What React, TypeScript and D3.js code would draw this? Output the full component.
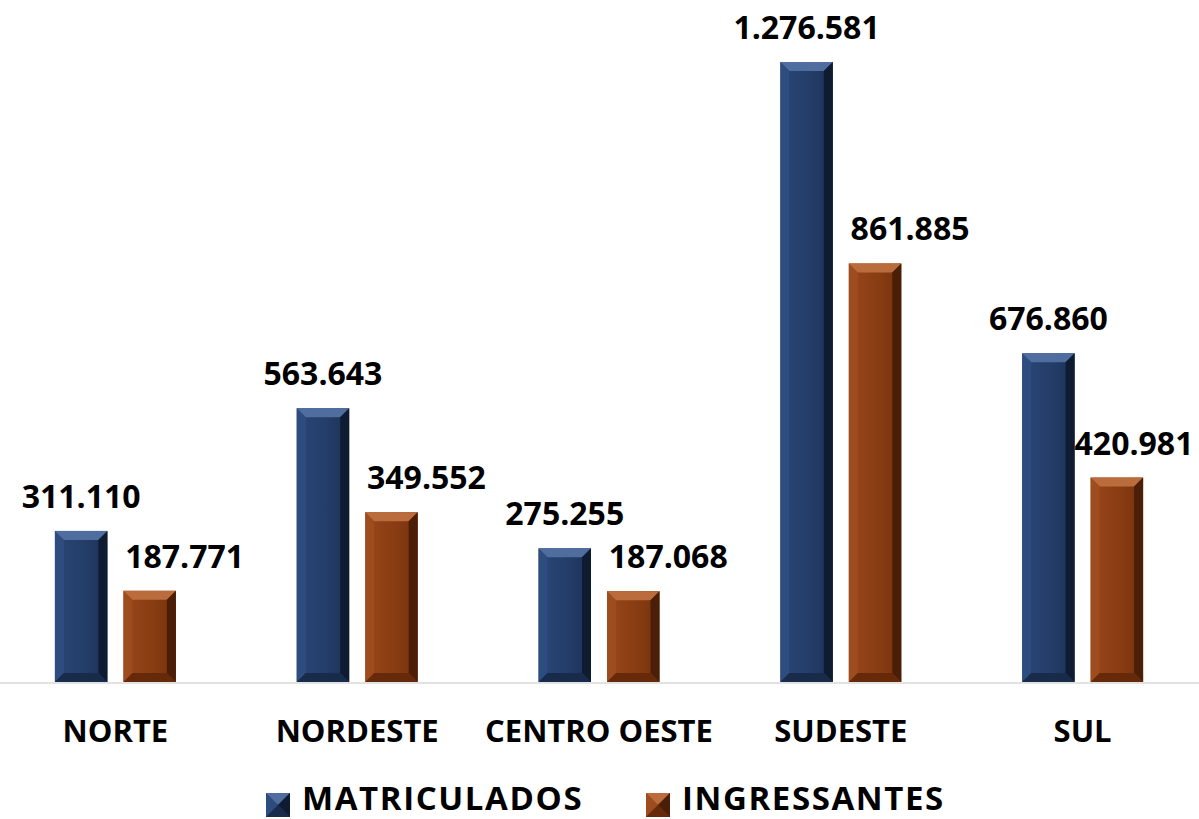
import React from "react";
import * as d3 from "d3";

// data
const categories = ["NORTE", "NORDESTE", "CENTRO OESTE", "SUDESTE", "SUL"];
const seriesNames = ["MATRICULADOS", "INGRESSANTES"];
const matriculados = [311110, 563643, 275255, 1276581, 676860];
const ingressantes = [187771, 349552, 187068, 861885, 420981];

const width = 1199;
const height = 819;
const font = "'Open Sans', 'DejaVu Sans', sans-serif";

// bevel palettes per series
const palettes = {
  MATRICULADOS: {
    body: ["#2a4675", "#243e6a", "#1c3257"],
    top: "#4f6d9f",
    left: "#304f82",
    right: "#0f1b31",
    bottom: "#182b4b",
  },
  INGRESSANTES: {
    body: ["#97461a", "#8a3d12", "#74320d"],
    top: "#bb6c3d",
    left: "#a04f20",
    right: "#4a1e07",
    bottom: "#66290a",
  },
};

const ptFormat = d3.formatLocale({
  decimal: ",",
  thousands: ".",
  grouping: [3],
  currency: ["", ""],
}).format(",d");

function pts(p) {
  return p.map((d) => d.join(",")).join(" ");
}

function BevelRect({ x, y, w, h, b, name, gid }) {
  const pal = palettes[name];
  const bb = Math.min(b, w / 2, h / 2);
  return (
    <g>
      <rect x={x} y={y} width={w} height={h} fill={`url(#${gid})`} />
      <polygon
        points={pts([[x, y], [x + w, y], [x + w - bb, y + bb], [x + bb, y + bb]])}
        fill={pal.top}
      />
      <polygon
        points={pts([[x, y], [x + bb, y + bb], [x + bb, y + h - bb], [x, y + h]])}
        fill={pal.left}
        opacity={0.8}
      />
      <polygon
        points={pts([[x + w, y], [x + w, y + h], [x + w - bb, y + h - bb], [x + w - bb, y + bb]])}
        fill={pal.right}
      />
      <polygon
        points={pts([[x, y + h], [x + bb, y + h - bb], [x + w - bb, y + h - bb], [x + w, y + h]])}
        fill={pal.bottom}
      />
    </g>
  );
}

export default function App() {
  const x0 = d3.scaleBand(categories, [-5.5, 1203.5]).padding(0);
  const bw = x0.bandwidth();
  const x1 = d3
    .scaleBand(seriesNames, [bw / 2 - 60.5, bw / 2 + 60.5])
    .paddingInner(0.2336)
    .paddingOuter(0);
  const y = d3.scaleLinear([0, d3.max(matriculados)], [682, 62]);

  const series = [
    { name: "MATRICULADOS", values: matriculados, labelDx: 0 },
    { name: "INGRESSANTES", values: ingressantes, labelDx: 35 },
  ];

  return (
    <svg
      width={width}
      height={height}
      viewBox={`0 0 ${width} ${height}`}
      style={{ position: "absolute", left: 0, top: 0, background: "#fff" }}
    >
      <defs>
        {seriesNames.map((n) => (
          <linearGradient key={n} id={`g-${n}`} x1="0" x2="1" y1="0" y2="0">
            <stop offset="0%" stopColor={palettes[n].body[0]} />
            <stop offset="55%" stopColor={palettes[n].body[1]} />
            <stop offset="100%" stopColor={palettes[n].body[2]} />
          </linearGradient>
        ))}
      </defs>
      <rect width={width} height={height} fill="#fff" />

      {series.map((s) => (
        <g key={s.name}>
          {s.values.map((v, i) => {
            const bx = x0(categories[i]) + x1(s.name);
            const by = y(v);
            return (
              <BevelRect
                key={i}
                x={bx}
                y={by}
                w={x1.bandwidth()}
                h={y(0) - by}
                b={9}
                name={s.name}
                gid={`g-${s.name}`}
              />
            );
          })}
        </g>
      ))}

      {/* baseline */}
      <line x1={0} x2={width} y1={y(0) + 1} y2={y(0) + 1} stroke="#d9d9d9" strokeWidth={1.5} />

      {/* value labels */}
      {series.map((s) => (
        <g key={s.name} fontFamily={font} fontWeight={700} fontSize={32} textAnchor="middle" fill="#000">
          {s.values.map((v, i) => {
            const cx = x0(categories[i]) + x1(s.name) + x1.bandwidth() / 2 + s.labelDx;
            return (
              <text key={i} x={Math.min(cx, width - 65)} y={y(v) - 23}>
                {ptFormat(v)}
              </text>
            );
          })}
        </g>
      ))}

      {/* category axis */}
      <g fontFamily={font} fontWeight={700} fontSize={31} textAnchor="middle" fill="#000">
        {categories.map((c) => (
          <text key={c} x={x0(c) + bw / 2} y={742}>
            {c}
          </text>
        ))}
      </g>

      {/* legend */}
      <g fontFamily={font} fontWeight={700} fontSize={33} fill="#000">
        {seriesNames.map((n, i) => {
          const lx = [266, 646][i];
          return (
            <g key={n}>
              <BevelRect x={lx} y={793} w={24} h={24} b={12} name={n} gid={`g-${n}`} />
              <text x={lx + 36} y={810} letterSpacing={1.6}>
                {n}
              </text>
            </g>
          );
        })}
      </g>
    </svg>
  );
}
